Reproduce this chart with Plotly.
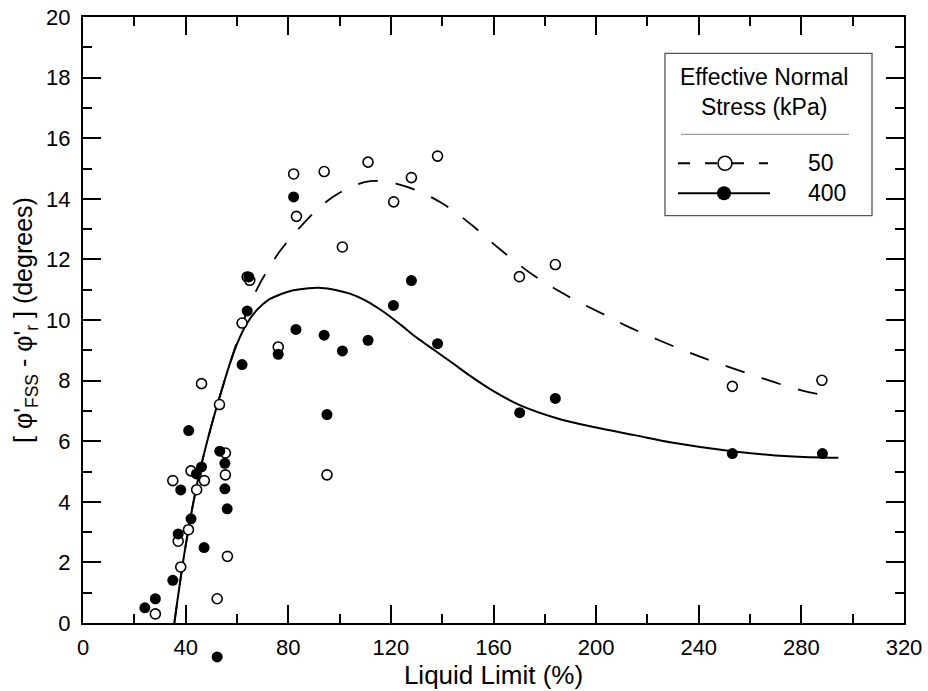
import plotly.graph_objects as go

# ---------------- data ----------------
# Effective normal stress 50 kPa (open circles)
ll_50 = [28.2, 35.0, 37.1, 38.1, 41.1, 42.1, 44.3, 46.2, 47.3, 52.3, 53.2, 55.5, 55.5,
         56.3, 62.0, 64.0, 65.0, 76.1, 82.1, 83.2, 94.0, 95.1, 101.1, 111.1, 121.1,
         128.0, 138.2, 170.1, 184.1, 253.1, 288.0]
phi_50 = [0.30, 4.70, 2.70, 1.85, 3.08, 5.02, 4.40, 7.90, 4.70, 0.80, 7.21, 5.61, 4.89,
          2.20, 9.90, 11.42, 11.31, 9.11, 14.82, 13.42, 14.90, 4.89, 12.41, 15.21, 13.90,
          14.70, 15.41, 11.43, 11.83, 7.81, 8.01]

# Effective normal stress 400 kPa (filled circles)
ll_400 = [24.1, 28.2, 35.0, 37.1, 38.1, 41.2, 42.1, 44.2, 46.2, 47.2, 52.3, 53.3, 55.3,
          55.3, 56.2, 62.0, 64.0, 64.6, 76.1, 82.1, 83.0, 94.0, 95.1, 101.1, 111.1,
          121.0, 128.0, 138.2, 170.2, 184.1, 253.1, 288.2]
phi_400 = [0.50, 0.80, 1.41, 2.94, 4.39, 6.35, 3.44, 4.92, 5.15, 2.49, -1.12, 5.67, 5.27,
           4.43, 3.77, 8.53, 10.30, 11.42, 8.87, 14.06, 9.69, 9.50, 6.88, 8.98, 9.33,
           10.48, 11.30, 9.22, 6.94, 7.41, 5.59, 5.59]

# Trend curves
fit50_x = [35.6, 40.0, 45.0, 50.0, 55.0, 58.0, 61.0, 64.0, 68.0, 72.0, 77.0, 85.0,
           94.0, 100.0, 106.0, 112.0, 117.0, 122.0, 130.0, 139.0, 146.0, 152.0,
           163.0, 176.0, 190.0, 205.0, 212.0, 234.0, 250.0, 265.0, 280.0, 293.0]
fit50_y = [0.0, 2.55, 4.80, 6.50, 7.95, 8.75, 9.55, 10.30, 11.05, 11.65, 12.30, 13.10,
           13.85, 14.20, 14.45, 14.58, 14.58, 14.50, 14.28, 13.90, 13.50, 13.10,
           12.30, 11.45, 10.74, 10.10, 9.80, 9.00, 8.50, 8.07, 7.68, 7.46]

fit400_x = [35.6, 40.0, 45.0, 50.0, 55.0, 58.0, 61.0, 64.0, 68.0, 72.0, 77.0, 82.0,
            88.0, 93.0, 98.0, 104.0, 110.0, 117.0, 124.0, 130.0, 137.0, 144.0,
            151.0, 160.0, 170.0, 185.0, 200.0, 215.0, 230.0, 253.0, 275.0, 294.4]
fit400_y = [0.0, 2.55, 4.80, 6.50, 7.95, 8.75, 9.40, 9.90, 10.35, 10.65, 10.85, 10.98,
            11.05, 11.06, 11.00, 10.87, 10.65, 10.28, 9.83, 9.42, 9.00, 8.58,
            8.15, 7.65, 7.20, 6.75, 6.45, 6.20, 5.95, 5.67, 5.50, 5.45]

x_ticks = [0, 40, 80, 120, 160, 200, 240, 280, 320]
y_ticks = [0, 2, 4, 6, 8, 10, 12, 14, 16, 18, 20]
legend_title = "Effective Normal<br>Stress (kPa)"
legend_labels = ["50", "400"]

# ---------------- layout helpers ----------------
W, H = 928, 691
L, R, T, B = 83, 904, 17, 623        # frame of the visible axes (pixels)
Y_MIN, Y_MAX = 0, 20
PB = H                               # paper area reaches the bottom edge
# the visible y axis occupies the upper part of the paper area; a hidden twin
# axis with the same scale spans the whole paper so that the point lying
# below the x axis in the reference is still drawn through the data scale
y_dom0 = (PB - B) / (PB - T)
units_per_px = (Y_MAX - Y_MIN) / (B - T)
y2_min = Y_MIN - (PB - B) * units_per_px
FONT = "Liberation Sans, Arial, Helvetica, sans-serif"


def pxx(p):
    return (p - L) / (R - L)


def pxy(p):
    return (PB - p) / (PB - T)


fig = go.Figure()

fig.add_trace(go.Scatter(x=fit50_x, y=fit50_y, mode="lines", showlegend=False,
                         line=dict(color="black", width=1.8, dash="20px,18px",
                                   shape="spline", smoothing=1.0)))
fig.add_trace(go.Scatter(x=fit400_x, y=fit400_y, mode="lines", showlegend=False,
                         line=dict(color="black", width=2, shape="spline",
                                   smoothing=1.0)))
fig.add_trace(go.Scatter(x=ll_50, y=phi_50, mode="markers", showlegend=False,
                         yaxis="y2", cliponaxis=False,
                         marker=dict(symbol="circle", size=10, color="white",
                                     line=dict(color="black", width=1.6))))
fig.add_trace(go.Scatter(x=ll_400, y=phi_400, mode="markers", showlegend=False,
                         yaxis="y2", cliponaxis=False,
                         marker=dict(symbol="circle", size=11, color="black",
                                     line=dict(color="black", width=0))))

axis_common = dict(
    automargin=False,
    showgrid=False, zeroline=False, showline=True, linecolor="black", linewidth=2,
    mirror="ticks", ticks="inside", ticklen=18, tickwidth=1.6, tickcolor="black",
    tickfont=dict(family=FONT, size=22, color="black"),
)

fig.update_layout(
    xaxis=dict(range=[0, 320], tickmode="array", tickvals=x_ticks,
               ticktext=[str(v) for v in x_ticks], anchor="y",
               minor=dict(dtick=20, ticks="inside", ticklen=9, tickwidth=1.6,
                          tickcolor="black"),
               ticklabelstandoff=4,
               title=dict(text="Liquid Limit (%)", standoff=3,
                          font=dict(family=FONT, size=26, color="black")),
               **axis_common),
    yaxis=dict(range=[Y_MIN, Y_MAX], domain=[y_dom0, 1], tickmode="array",
               tickvals=y_ticks, ticktext=[str(v) for v in y_ticks], anchor="x",
               minor=dict(dtick=1, ticks="inside", ticklen=9, tickwidth=1.6,
                          tickcolor="black"),
               ticklabelstandoff=6,
               title=dict(text="[ φ'<sub>FSS</sub> - φ'<sub>r</sub> ] (degrees)",
                          standoff=6,
                          font=dict(family=FONT, size=25, color="black")),
               **axis_common),
    yaxis2=dict(range=[y2_min, Y_MAX], domain=[0, 1], anchor="x", visible=False,
                showgrid=False, zeroline=False, automargin=False),
)

# ---------------- custom legend ----------------
shapes = [
    dict(type="rect", xref="paper", yref="paper", x0=pxx(665), x1=pxx(872),
         y0=pxy(215.7), y1=pxy(53.3), line=dict(color="#555555", width=1.3),
         fillcolor="white", layer="above"),
    dict(type="line", xref="paper", yref="paper", x0=pxx(681), x1=pxx(849),
         y0=pxy(134.3), y1=pxy(134.3), line=dict(color="#8a8a8a", width=1),
         layer="above"),
    dict(type="line", xref="paper", yref="paper", x0=pxx(678), x1=pxx(768),
         y0=pxy(163.3), y1=pxy(163.3), line=dict(color="black", width=2,
                                                 dash="12px,15px"),
         layer="above"),
    dict(type="line", xref="paper", yref="paper", x0=pxx(678), x1=pxx(770),
         y0=pxy(193.3), y1=pxy(193.3), line=dict(color="black", width=2),
         layer="above"),
    dict(type="circle", xref="paper", yref="paper", xsizemode="pixel",
         ysizemode="pixel", xanchor=pxx(725), yanchor=pxy(163.3),
         x0=-7, x1=7, y0=-7, y1=7, fillcolor="white",
         line=dict(color="black", width=1.6), layer="above"),
    dict(type="circle", xref="paper", yref="paper", xsizemode="pixel",
         ysizemode="pixel", xanchor=pxx(724), yanchor=pxy(193.3),
         x0=-7, x1=7, y0=-7, y1=7, fillcolor="black",
         line=dict(color="black", width=0), layer="above"),
]

annotations = [
    dict(xref="paper", yref="paper", x=pxx(764), y=pxy(92), text=legend_title,
         showarrow=False, xanchor="center", yanchor="middle", align="center",
         font=dict(family=FONT, size=23, color="black")),
    dict(xref="paper", yref="paper", x=pxx(806), y=pxy(163.3), text=legend_labels[0],
         showarrow=False, xanchor="left", yanchor="middle",
         font=dict(family=FONT, size=23, color="black")),
    dict(xref="paper", yref="paper", x=pxx(806), y=pxy(193.3), text=legend_labels[1],
         showarrow=False, xanchor="left", yanchor="middle",
         font=dict(family=FONT, size=23, color="black")),
]

fig.update_layout(
    width=W, height=H,
    margin=dict(l=L, r=W - R, t=T, b=H - PB, pad=0, autoexpand=False),
    paper_bgcolor="white", plot_bgcolor="rgba(0,0,0,0)",
    font=dict(family=FONT, size=22, color="black"),
    showlegend=False,
    shapes=shapes, annotations=annotations,
)

fig.write_html(
    "out.html",
    config={"displayModeBar": False},
    post_script=(
        "document.documentElement.style.margin='0';"
        "document.documentElement.style.overflow='hidden';"
        "document.body.style.margin='0';"
        "document.body.style.padding='0';"
        "document.body.style.overflow='hidden';"
        "var gd=document.querySelector('.plotly-graph-div');"
        "gd.style.position='fixed';gd.style.left='0px';gd.style.top='0px';"
    ),
)
